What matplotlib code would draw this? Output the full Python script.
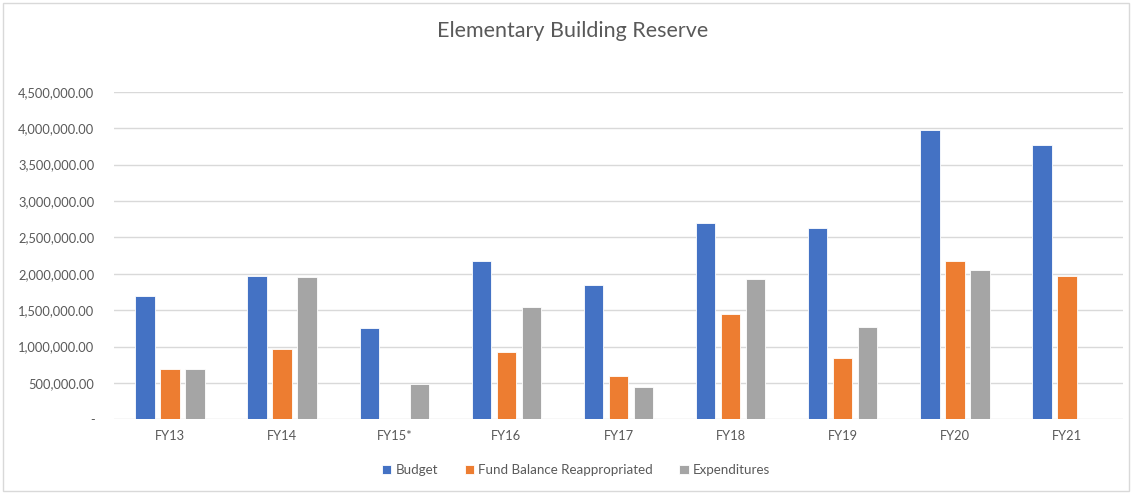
import numpy as np
from matplotlib import pyplot as plt
from matplotlib.patches import Rectangle
from matplotlib.ticker import FuncFormatter, MultipleLocator

plt.rcParams['font.family'] = ['Lato', 'DejaVu Sans']

years = ["FY13", "FY14", "FY15*", "FY16", "FY17", "FY18", "FY19", "FY20", "FY21"]
budget = [1695000, 1970000, 1259000, 2172000, 1850000, 2694000, 2625000, 3977000, 3775000]
fund_balance = [687000, 971000, 8000, 921000, 600000, 1447000, 838000, 2172000, 1970000]
expenditures = [687000, 1952000, 481000, 1540000, 448000, 1933000, 1273000, 2052000, 0]

series = [
    ("Budget", budget, "#4472C4"),
    ("Fund Balance Reappropriated", fund_balance, "#ED7D31"),
    ("Expenditures", expenditures, "#A5A5A5"),
]
text_color = "#595959"

fig = plt.figure(figsize=(11.33, 4.93), dpi=100)
ax = fig.add_axes([114 / 1133, 73.7 / 493, (1123 - 114) / 1133, (419.3 - 91.9) / 493])

x = np.arange(len(years))
width = 0.174
step = 0.223
for i, (name, vals, color) in enumerate(series):
    ax.bar(x + (i - 1) * step, vals, width, color=color, label=name, zorder=3,
           edgecolor="white", linewidth=0.6)

ax.set_xlim(-0.5, len(years) - 0.5)
ax.set_ylim(0, 4500000)
ax.yaxis.set_major_locator(MultipleLocator(500000))
ax.yaxis.set_major_formatter(FuncFormatter(lambda v, p: "-" if v == 0 else f"{v:,.2f}"))
ax.set_xticks(x)
ax.set_xticklabels(years)
ax.grid(axis="y", color="#D9D9D9", linewidth=1, zorder=0)
for s in ax.spines.values():
    s.set_visible(False)
ax.tick_params(axis="both", length=0, labelsize=9.3, labelcolor=text_color)
ax.tick_params(axis="y", pad=14)
ax.tick_params(axis="x", pad=8)

fig.text(573 / 1133, 1 - 31 / 493, "Elementary Building Reserve", ha="center", va="center",
         fontsize=15.5, color=text_color)

fig.legend(loc="center", bbox_to_anchor=(576 / 1133, 1 - 470 / 493), ncol=3, frameon=False,
           fontsize=9.6, labelcolor=text_color, handlelength=0.7, handleheight=0.7,
           handletextpad=0.3, columnspacing=2.0)

fig.patches.append(Rectangle((3 / 1133, 2 / 493), 1126 / 1133, 488 / 493, transform=fig.transFigure,
                             fill=False, edgecolor="#D9D9D9", linewidth=1))

fig.savefig("out.png", dpi=100)
